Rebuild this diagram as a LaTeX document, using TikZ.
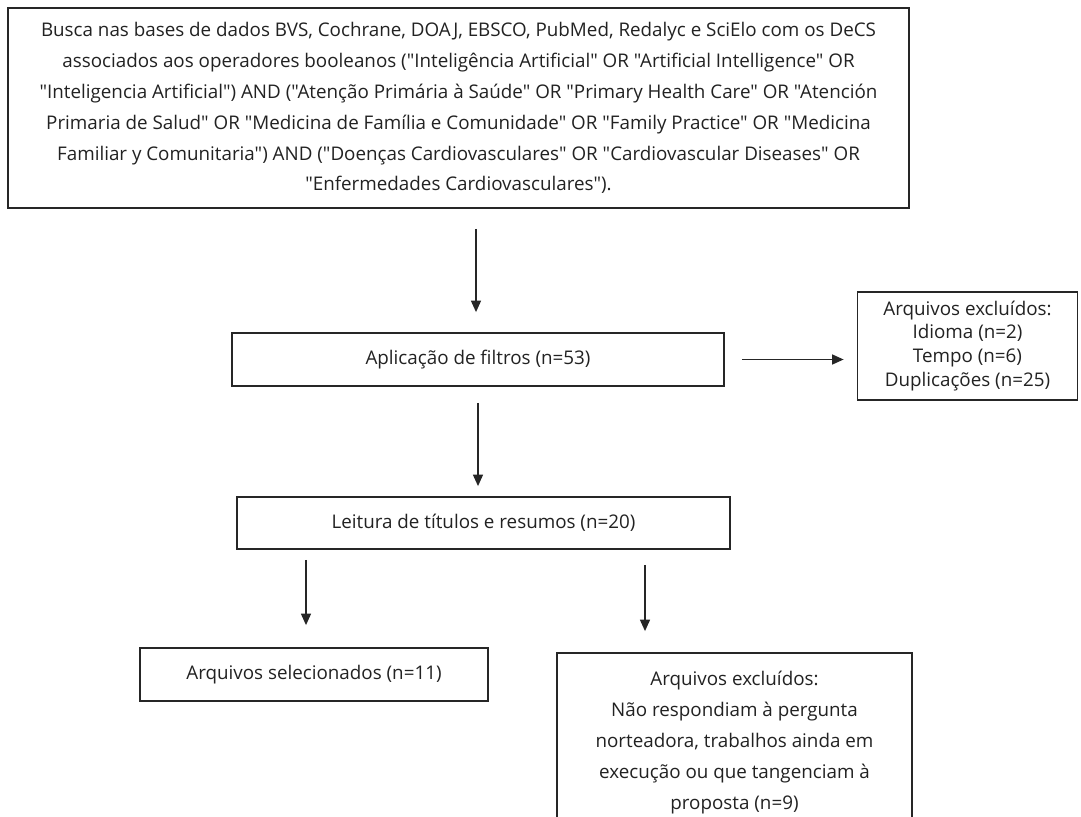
\documentclass[tikz,border=0pt]{standalone}
\usepackage{fontspec}
\setmainfont{Open Sans}[Ligatures=TeXOff]
\usepackage{xcolor}
\definecolor{linec}{HTML}{262626}
\definecolor{textc}{HTML}{222222}
\usepackage{tikz}
\usetikzlibrary{arrows.meta,positioning}
\tikzset{
  >={Triangle[length=2.3mm,width=2mm]},
  box/.style={draw=linec,line width=1pt,fill=white,inner sep=0pt,align=center,text=textc,
              font=\fontsize{10.7}{17.6}\selectfont},
  tbox/.style={box,font=\fontsize{10.7}{13.6}\selectfont},
  flow/.style={->,line width=0.85pt,draw=linec},
}

\begin{document}
\begin{tikzpicture}
  \useasboundingbox (0,0) rectangle (21.62,-16.34);
  \node[box,minimum width=18.02cm,minimum height=4cm] (busca) at (9.17,-2.16)
    {Busca nas bases de dados BVS, Cochrane, DOAJ, EBSCO, PubMed, Redalyc e SciElo com os DeCS\\
     associados aos operadores booleanos ("Inteligência Artificial" OR "Artificial Intelligence" OR\\
     "Inteligencia Artificial") AND ("Atenção Primária à Saúde" OR "Primary Health Care" OR "Atención\\
     Primaria de Salud" OR "Medicina de Família e Comunidade" OR "Family Practice" OR "Medicina\\
     Familiar y Comunitaria") AND ("Doenças Cardiovasculares" OR "Cardiovascular Diseases" OR\\
     "Enfermedades Cardiovasculares").};
  \node[box,minimum width=9.84cm,minimum height=1.06cm] (filtros) at (9.56,-7.19)
    {Aplicação de filtros (n=53)};
  \node[tbox,minimum width=4.4cm,minimum height=2.16cm] (excl1) at (19.35,-6.92)
    {Arquivos excluídos:\\Idioma (n=2)\\Tempo (n=6)\\Duplicações (n=25)};
  \node[box,minimum width=9.86cm,minimum height=1.04cm] (leitura) at (9.67,-10.46)
    {Leitura de títulos e resumos (n=20)};
  \node[box,minimum width=6.96cm,minimum height=1.06cm] (selec) at (6.28,-13.49)
    {Arquivos selecionados (n=11)};
  \node[box,minimum width=7.1cm,minimum height=3.58cm] (excl2) at (14.69,-14.85)
    {Arquivos excluídos:\\Não respondiam à pergunta\\norteadora, trabalhos ainda em\\
     execução ou que tangenciam à\\proposta (n=9)};
  % setas
  \draw[flow,shorten <=0.4cm,shorten >=0.4cm] ([xshift=-0.04cm]filtros.north |- busca.south) -- ([xshift=-0.04cm]filtros.north);
  \draw[flow,shorten <=0.34cm,shorten >=0.26cm] (filtros.east) -- (filtros.east -| excl1.west);
  \draw[flow,shorten <=0.32cm,shorten >=0.2cm] (filtros.south) -- (filtros.south |- leitura.north);
  \draw[flow,shorten <=0.2cm,shorten >=0.44cm] ([xshift=-0.16cm]selec.north |- leitura.south) -- ([xshift=-0.16cm]selec.north);
  \draw[flow,shorten <=0.3cm,shorten >=0.42cm] ([xshift=-1.79cm]excl2.north |- leitura.south) -- ([xshift=-1.79cm]excl2.north);
\end{tikzpicture}
\end{document}
